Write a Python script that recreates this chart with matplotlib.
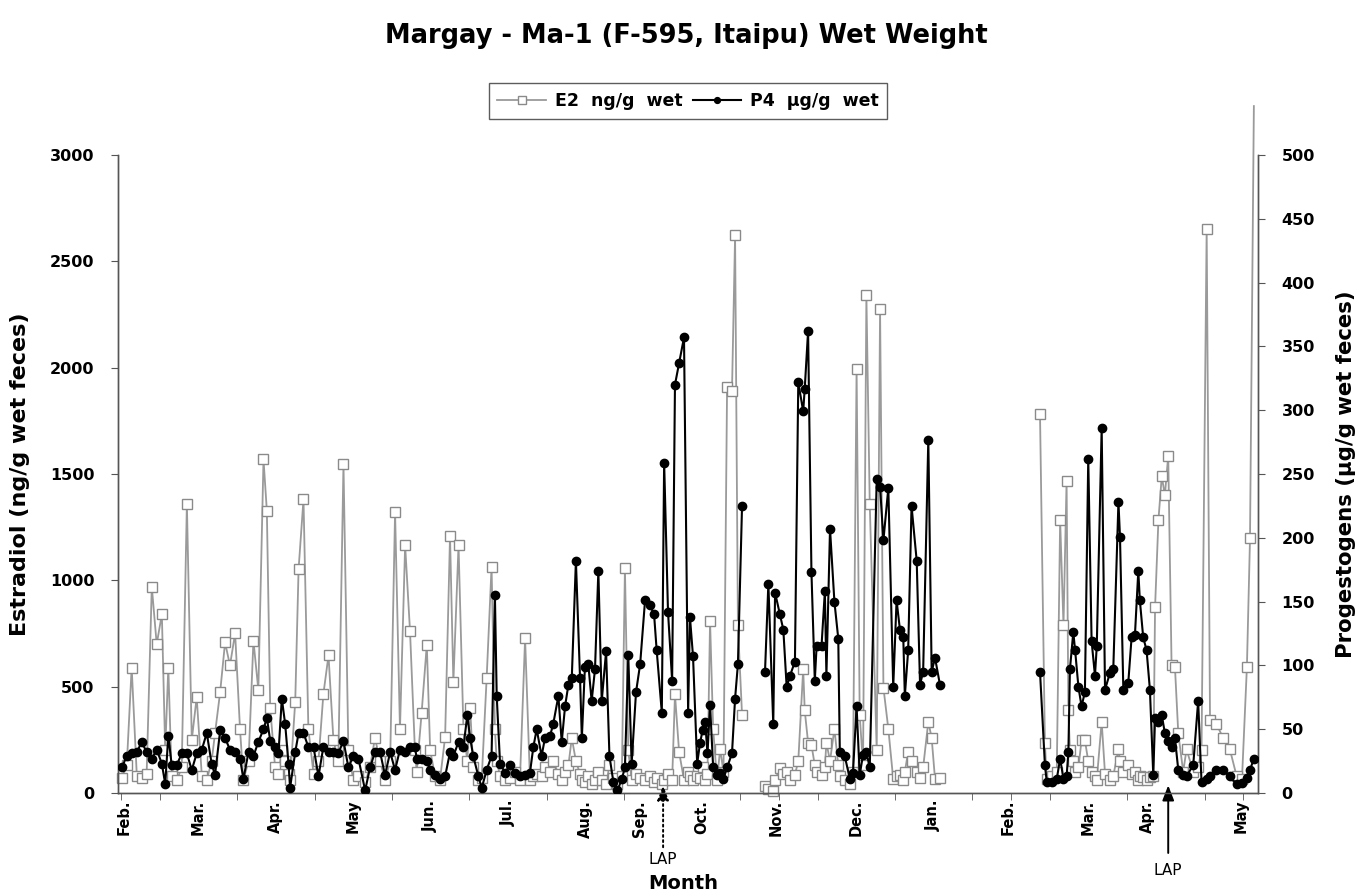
import numpy as np
import matplotlib
matplotlib.use("Agg")
import matplotlib.pyplot as plt

plt.rcParams["font.family"] = ["DejaVu Sans"]

# Sampling day (counted from 1 Feb of the first year); None = break in sampling
days = [
    0.3, 2.2, 4.1, 6.1, 8.0, 9.9, 11.9, 13.8, 15.8, 17.1,
    18.3, 19.6, 21.6, 23.5, 25.5, 27.4, 29.3, 31.3, 33.2, 35.1,
    36.4, 38.4, 40.3, 42.2, 44.2, 46.1, 47.4, 49.4, 51.3, 53.2,
    55.2, 56.5, 57.8, 59.7, 61.0, 62.3, 63.6, 64.9, 65.5, 67.5,
    68.8, 70.7, 72.6, 74.6, 76.5, 78.4, 80.4, 82.3, 84.2, 86.2,
    88.1, 90.0, 92.0, 94.6, 96.5, 98.4,
    100.4, 102.3, 104.3, 106.2, 108.1, 110.1, 112.0, 113.9, 114.6, 116.5,
    118.5, 119.8, 121.7, 123.6, 125.6, 127.5, 128.8, 130.8, 132.7, 134.2,
    135.3, 136.5, 138.5, 139.8, 141.7, 143.6, 144.9, 145.6, 146.9, 148.8,
    150.8, 152.7, 154.6, 156.6, 158.5, 159.8, 161.1, 163.0, 164.3, 166.3,
    167.5, 169.5, 170.8, 172.1, 173.4, 174.7, 176.3, 177.9, 178.6, 179.8,
    181.1, 182.4, 183.7, 185.0, 186.3, 188.0, 189.3, 190.8, 192.4, 194.1,
    195.3, 196.6, 197.9, 199.6, 201.2, 203.1, 205.0, 206.6, 207.6, 209.6,
    210.5,
    212.0, 213.6, 214.7, 216.3, 218.2, 219.8, 220.5, 221.7, 223.3, 224.4,
    225.4, 226.4, 227.3, 228.3, 229.5, 231.0, 232.2, 233.5, 234.9, 236.8,
    238.0, 239.1, 240.7,
    None,
    249.6, 250.9, 252.8, 253.5, 255.4, 256.7, 258.0, 259.3, 261.2, 262.5,
    264.4, 265.0, 266.3, 267.6, 268.9, 269.6, 271.5, 272.8, 273.4, 274.8,
    276.5, 278.0, 278.6, 280.5, 282.5, 283.7, 285.1, 286.3, 287.6, 288.9,
    290.2, 292.9, 294.2, 295.5, 297.4, 299.3, 300.6, 301.9, 303.2, 303.8,
    305.1, 306.4, 308.4, 309.7, 310.9, 312.9, 314.2, 315.5, 317.4,
    None,
    356.2, 358.1, 358.8, 360.7, 362.7, 364.0, 365.3, 366.5, 367.2, 367.8,
    369.1, 369.8, 371.1, 372.3, 373.6, 374.9, 376.2, 377.5, 378.2, 380.1,
    381.4, 383.3, 384.6, 386.6, 387.2, 388.5, 390.4, 391.7, 393.0, 394.3,
    394.9, 396.2, 397.5, 398.8, 400.1, 400.8, 402.1, 403.4, 404.6, 405.9,
    407.2, 408.5, 409.8, 411.7, 413.0, 415.6, 417.5, 418.8, 420.8, 422.1,
    424.6, 427.2, 429.8, 432.4, 434.5, 436.4, 437.6, 439.1,
]

# Estradiol, ng/g wet feces
e2 = [
    70, 130, 590, 80, 70, 90, 970, 700, 840, 200,
    590, 80, 60, 120, 1360, 250, 450, 80, 60, 150,
    280, 475, 708, 600, 751, 300, 60, 150, 716, 485,
    1569, 1327, 400, 120, 90, 200, 150, 90, 60, 430,
    1053, 1381, 300, 90, 150, 464, 647, 250, 150, 1547,
    200, 60, 80, 50, 120, 259,
    150, 60, 150, 1321, 300, 1165, 760, 200, 100, 378,
    697, 200, 80, 60, 263, 1208, 522, 1165, 300, 150,
    399, 120, 60, 70, 540, 1062, 300, 150, 80, 60,
    70, 100, 60, 727, 60, 80, 90, 80, 120, 100,
    150, 90, 60, 100, 130, 259, 150, 90, 60, 50,
    80, 40, 60, 100, 60, 40, 130, 70, 40, 80,
    1057, 200, 60, 90, 70, 60, 80, 50, 70, 40,
    60,
    90, 60, 464, 193, 61, 100, 80, 60, 80, 70,
    120, 60, 90, 809, 300, 60, 205, 100, 1909, 1888,
    2622, 790, 367,
    None,
    32, 20, 11, 60, 119, 90, 97, 60, 86, 150,
    583, 388, 237, 227, 130, 100, 86, 120, 237, 150,
    302, 130, 80, 60, 40, 100, 1996, 367, 130, 2341,
    1360, 200, 2277, 496, 302, 65, 80, 86, 60, 100,
    194, 150, 97, 70, 120, 335, 259, 65, 70,
    None,
    1780, 237, 65, 80, 100, 1284, 788, 1467, 388, 200,
    150, 100, 120, 248, 248, 150, 100, 80, 60, 335,
    90, 60, 80, 205, 151, 100, 130, 90, 97, 60,
    80, 76, 60, 76, 80, 874, 1284, 1489, 1400, 1586,
    600, 593, 280, 100, 205, 100, 120, 200, 2654, 345,
    324, 259, 205, 80, 68, 593, 1197, 3230,
]

# Progestogens, ug/g wet feces
p4 = [
    20, 29, 31, 32, 40, 32, 27, 34, 23, 7,
    45, 22, 22, 31, 31, 18, 31, 34, 47, 23,
    14, 49, 43, 34, 32, 27, 11, 32, 29, 40,
    50, 59, 41, 36, 31, 74, 54, 23, 4, 32,
    47, 47, 36, 36, 13, 36, 32, 32, 31, 41,
    20, 29, 27, 2, 20, 32,
    32, 14, 32, 18, 34, 32, 36, 36, 27, 27,
    25, 18, 14, 11, 13, 32, 29, 40, 36, 61,
    43, 29, 13, 4, 18, 29, 155, 76, 23, 16,
    22, 16, 13, 14, 16, 36, 50, 29, 43, 45,
    54, 76, 40, 68, 85, 90, 182, 90, 43, 99,
    101, 72, 97, 174, 72, 111, 29, 9, 2, 11,
    20, 108, 23, 79, 101, 151, 147, 140, 112, 63,
    259,
    142, 88, 320, 337, 357, 63, 138, 107, 23, 39,
    49, 56, 31, 69, 20, 14, 16, 11, 20, 31,
    74, 101, 225,
    None,
    95, 164, 54, 157, 140, 128, 83, 92, 103, 322,
    299, 317, 362, 173, 88, 115, 115, 158, 92, 207,
    150, 121, 32, 29, 11, 16, 68, 14, 30, 32,
    20, 246, 240, 198, 239, 83, 151, 128, 122, 76,
    112, 225, 182, 85, 95, 277, 95, 106, 85,
    None,
    95, 22, 9, 9, 11, 27, 11, 13, 32, 97,
    126, 112, 83, 68, 79, 262, 119, 92, 115, 286,
    81, 94, 97, 228, 201, 81, 86, 122, 124, 174,
    151, 122, 112, 81, 14, 59, 56, 61, 47, 41,
    36, 43, 18, 14, 13, 22, 72, 9, 11, 13,
    18, 18, 13, 7, 8, 12, 18, 27,
]

month_labels = ["Feb.", "Mar.", "Apr.", "May", "Jun.", "Jul.", "Aug.", "Sep.",
                "Oct.", "Nov.", "Dec.", "Jan.", "Feb.", "Mar.", "Apr.", "May"]
month_pos = [1, 30, 60, 90, 120, 150, 180, 201, 225, 254, 285, 315, 344, 375, 398, 434]
lap_days = [210.1, 405.9]

x = np.array(days, dtype=float)
y_e2 = np.array(e2, dtype=float)
y_p4 = np.array(p4, dtype=float)

fig = plt.figure(figsize=(13.62, 8.96), dpi=100)
ax = fig.add_axes([118 / 1362, 1 - 793 / 896, 1140 / 1362, 638 / 896])
ax2 = ax.twinx()

E2_GREY = "#9a9a9a"
l1, = ax.plot(x, y_e2, color=E2_GREY, lw=1.3, marker="s", ms=7.5, mfc="white",
              mec="#8a8a8a", mew=1.0, markevery=list(np.where(~(y_e2 > 3000))[0]),
              clip_on=False, zorder=2, label="E2  ng/g  wet")
l2, = ax2.plot(x, y_p4, color="black", lw=1.5, marker="o", ms=6, mfc="black",
               mec="black", zorder=3, label="P4  \u03bcg/g  wet")

ax.set_xlim(-1.2, 440.7)
ax.set_ylim(0, 3000)
ax2.set_ylim(0, 500)

ax.set_yticks(range(0, 3001, 500))
ax2.set_yticks(range(0, 501, 50))
ax.set_xticks(month_pos, month_labels, rotation=90, fontsize=10.5, fontweight="bold")
ax.set_xticks(np.arange(0, 436, 15), minor=True)
ax.tick_params(axis="x", which="major", length=0, pad=5)
ax.tick_params(axis="x", which="minor", length=5, direction="out", color="#555555")
ax.tick_params(axis="y", length=5, pad=12, labelsize=11.5, color="#555555")
ax2.tick_params(axis="y", length=5, pad=12, labelsize=11.5, color="#555555")
for lab in ax.get_yticklabels() + ax2.get_yticklabels():
    lab.set_fontweight("bold")

for a in (ax, ax2):
    a.spines["top"].set_visible(False)
    for s in ("left", "right", "bottom"):
        a.spines[s].set_color("#555555")
        a.spines[s].set_linewidth(1.0)

ax.set_ylabel("Estradiol (ng/g wet feces)", fontsize=16, fontweight="bold")
ax.yaxis.set_label_coords(-0.077, 0.5)
ax2.set_ylabel("Progestogens (\u03bcg/g wet feces)", fontsize=15.3, fontweight="bold")
ax2.yaxis.set_label_coords(1.068, 0.5)
ax.set_xlabel("Month", fontsize=14, fontweight="bold")
ax.xaxis.set_label_coords(0.4956, -0.127)

# LAP markers below the time axis
trans = ax.get_xaxis_transform()
lap_styles = [(":", -0.085, -0.105), ("-", -0.094, -0.121)]
for d, (ls, y0, ytxt) in zip(lap_days, lap_styles):
    ax.annotate("", xy=(d, 0.012), xytext=(d, y0), xycoords=trans, textcoords=trans,
                arrowprops=dict(arrowstyle="-|>,head_width=0.35,head_length=0.9",
                                color="black", lw=1.4, linestyle=ls, shrinkA=0, shrinkB=0),
                annotation_clip=False)
    ax.text(d, ytxt, "LAP", transform=trans, ha="center", va="center", fontsize=11)

fig.text(686 / 1362, 1 - 36 / 896, "Margay - Ma-1 (F-595, Itaipu) Wet Weight",
         ha="center", va="center", fontsize=18.5, fontweight="bold")

leg = fig.legend([l1, l2], [l1.get_label(), l2.get_label()], loc="center",
                 bbox_to_anchor=(688 / 1362, 1 - 101 / 896), ncol=2,
                 prop={"size": 12.5, "weight": "bold"},
                 frameon=True, fancybox=False, edgecolor="#333333", handlelength=2.8,
                 columnspacing=0.6, handletextpad=0.5, borderpad=0.5, markerscale=0.7)
leg.get_frame().set_linewidth(1.0)

fig.savefig("out.png", dpi=100)
